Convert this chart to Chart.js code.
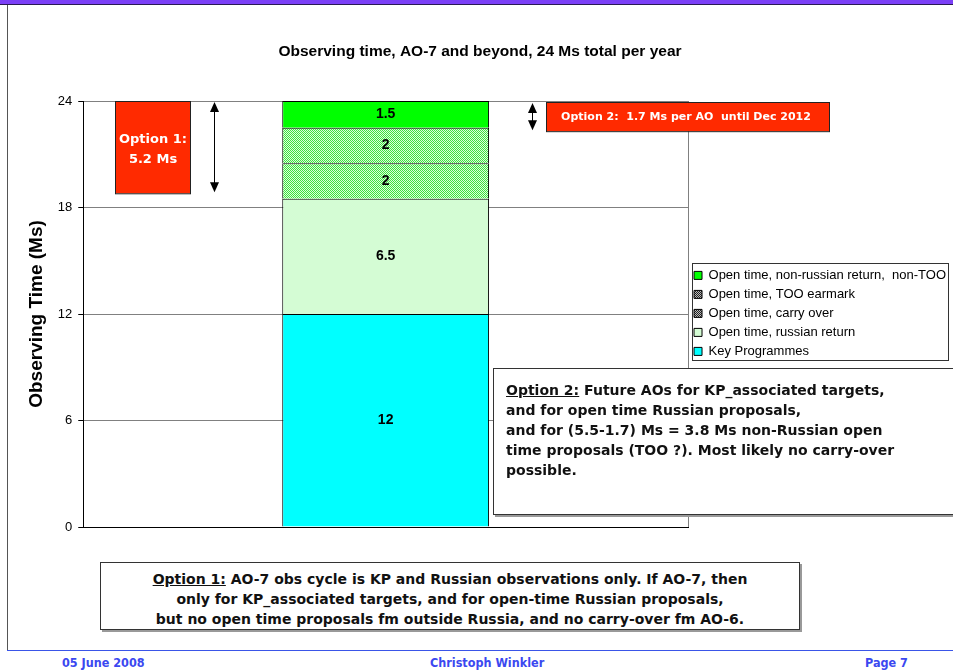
<!DOCTYPE html>
<html>
<head>
<meta charset="utf-8">
<script src="https://cdn.jsdelivr.net/npm/chart.js@4"></script>
<style>
body { margin: 0; width: 953px; height: 672px; overflow: hidden; background: #fff; position: relative; font-family: "DejaVu Sans", sans-serif; }
#topbar { position: absolute; left: 0; top: 0; width: 953px; height: 4px; background: #7b3ff7; border-bottom: 1px solid #2a1a55; }
#leftline { position: absolute; left: 7px; top: 5px; width: 1px; height: 645px; background: #555; }
#bottomline { position: absolute; left: 7px; top: 650px; width: 946px; height: 1px; background: #3a55e8; }
.foot { position: absolute; top: 655px; font: bold 12.5px "DejaVu Sans Condensed", "DejaVu Sans"; color: #3b48f0; }
#wrap { position: absolute; left: 0; top: 0; width: 953px; height: 545px; }
.note { position: absolute; background: #fff; border: 1px solid #333; box-shadow: 2px 2px 0 #999; font: bold 14px/20px "DejaVu Sans"; color: #111; box-sizing: border-box; }
</style>
</head>
<body>
<div id="wrap"><canvas id="chart"></canvas></div>
<div id="topbar"></div>
<div id="leftline"></div>

<div class="note" style="left:493px; top:368px; width:480px; height:147px; padding:11px 0 0 12px;">
<u>Option 2:</u> Future AOs for KP_associated targets,<br>
and for open time Russian proposals,<br>
and for (5.5-1.7) Ms = 3.8 Ms non-Russian open<br>
time proposals (TOO ?). Most likely no carry-over<br>
possible.
</div>

<div class="note" style="left:100px; top:562px; width:700px; height:68px; padding-top:6px; text-align:center;">
<u>Option 1:</u> AO-7 obs cycle is KP and Russian observations only. If AO-7, then<br>
only for KP_associated targets, and for open-time Russian proposals,<br>
but no open time proposals fm outside Russia, and no carry-over fm AO-6.
</div>

<div id="bottomline"></div>
<div class="foot" style="left:62px;">05 June 2008</div>
<div class="foot" style="left:430px;">Christoph Winkler</div>
<div class="foot" style="left:865px;">Page 7</div>

<script>
// chart values
const categories = ['AO-7'];
const seriesNames = [
    'Key Programmes',
    'Open time, russian return',
    'Open time, carry over',
    'Open time, TOO earmark',
    'Open time, non-russian return,  non-TOO'
];
const keyProgrammes = [12];
const russianReturn = [6.5];
const carryOver = [2];
const tooEarmark = [2];
const nonRussian = [1.5];
const yTicks = [0, 6, 12, 18, 24];
// option spans in Ms, drawn from the top of the scale
const option1Span = [24, 18.8];   // 5.2 Ms
const option2Span = [24, 22.3];   // 1.7 Ms

// small checker patterns for the hatched segments
function checker(c1, c2) {
    const p = document.createElement('canvas');
    p.width = 2; p.height = 2;
    const g = p.getContext('2d');
    g.fillStyle = c2; g.fillRect(0, 0, 2, 2);
    g.fillStyle = c1; g.fillRect(0, 0, 1, 1); g.fillRect(1, 1, 1, 1);
    return g.createPattern(p, 'repeat');
}
const ctx = document.getElementById('chart').getContext('2d');
const greenHatch = checker('#3ee03e', '#dcffdc');
const grayHatch = checker('#222222', '#bbbbbb');

function drawArrow(c, x, y1, y2) {
    c.save();
    c.strokeStyle = '#000';
    c.fillStyle = '#000';
    c.lineWidth = 1;
    c.beginPath();
    c.moveTo(x + 0.5, y1 + 8);
    c.lineTo(x + 0.5, y2 - 8);
    c.stroke();
    c.beginPath();
    c.moveTo(x + 0.5, y1); c.lineTo(x - 4, y1 + 10); c.lineTo(x + 5, y1 + 10); c.closePath(); c.fill();
    c.beginPath();
    c.moveTo(x + 0.5, y2); c.lineTo(x - 4, y2 - 10); c.lineTo(x + 5, y2 - 10); c.closePath(); c.fill();
    c.restore();
}

const overlays = {
    id: 'overlays',
    afterDatasetsDraw(chart) {
        const c = chart.ctx;
        // values in the middle of each segment
        c.save();
        c.font = 'bold 14px "Liberation Sans", Arial';
        c.fillStyle = '#000';
        c.textAlign = 'center';
        c.textBaseline = 'middle';
        chart.data.datasets.forEach((ds, i) => {
            chart.getDatasetMeta(i).data.forEach((bar, j) => {
                c.fillText(String(ds.data[j]), bar.x, (bar.y + bar.base) / 2);
            });
        });
        c.restore();
    },
    afterDraw(chart) {
        const c = chart.ctx;
        const area = chart.chartArea;
        const y = chart.scales.y;

        // right edge of the plot
        c.save();
        c.strokeStyle = '#808080';
        c.lineWidth = 1;
        c.beginPath();
        c.moveTo(Math.round(area.right) + 0.5, area.top);
        c.lineTo(Math.round(area.right) + 0.5, area.bottom);
        c.stroke();

        // legend frame
        const boxes = chart.legend.legendHitBoxes;
        if (boxes.length) {
            let l = Infinity, t = Infinity, r = -Infinity, b = -Infinity;
            boxes.forEach(h => {
                l = Math.min(l, h.left); t = Math.min(t, h.top);
                r = Math.max(r, h.left + h.width); b = Math.max(b, h.top + h.height);
            });
            c.strokeStyle = '#333';
            c.strokeRect(Math.round(l - 2) + 0.5, Math.round(t - 6) + 0.5, Math.round(r - l + 4), Math.round(b - t + 8));
        }

        // Option 1 box
        const o1Top = y.getPixelForValue(option1Span[0]);
        const o1Bot = y.getPixelForValue(option1Span[1]);
        c.fillStyle = '#ff2a00';
        c.fillRect(115, o1Top, 75, o1Bot - o1Top);
        c.strokeStyle = '#222';
        c.strokeRect(115.5, o1Top + 0.5, 75, o1Bot - o1Top);
        c.fillStyle = '#fff';
        c.font = 'bold 13px "DejaVu Sans"';
        c.textAlign = 'center';
        c.textBaseline = 'middle';
        c.fillText('Option 1:', 153, 140);
        c.fillText('5.2 Ms', 153, 160);
        drawArrow(c, 214, o1Top + 1, o1Bot - 1);

        // Option 2 box
        const o2Top = y.getPixelForValue(option2Span[0]) + 1;
        const o2Bot = y.getPixelForValue(option2Span[1]);
        c.fillStyle = '#ff2a00';
        c.fillRect(546, o2Top, 283, o2Bot - o2Top);
        c.strokeStyle = '#222';
        c.strokeRect(546.5, o2Top + 0.5, 283, o2Bot - o2Top);
        c.fillStyle = '#fff';
        c.font = 'bold 11px "DejaVu Sans"';
        c.fillText('Option 2:  1.7 Ms per AO  until Dec 2012', 686, (o2Top + o2Bot) / 2 + 1);
        drawArrow(c, 532, o2Top + 1, o2Bot - 1);
        c.restore();
    }
};

const colors = ['#00ffff', '#d4fcd4', greenHatch, greenHatch, '#00ff00'];
const legendFills = ['#00ffff', '#d4fcd4', grayHatch, grayHatch, '#00ff00'];
const values = [keyProgrammes, russianReturn, carryOver, tooEarmark, nonRussian];

new Chart(ctx, {
    type: 'bar',
    data: {
        labels: categories,
        datasets: seriesNames.map((name, i) => ({
            label: name,
            data: values[i],
            backgroundColor: colors[i],
            borderColor: '#000',
            borderWidth: 1,
            barPercentage: 0.342,
            categoryPercentage: 1
        }))
    },
    options: {
        responsive: true,
        maintainAspectRatio: false,
        animation: false,
        devicePixelRatio: 1,
        layout: { padding: { left: 4, right: -3, top: 0, bottom: 10 } },
        plugins: {
            title: {
                display: true,
                text: 'Observing time, AO-7 and beyond, 24 Ms total per year',
                font: { family: '"Liberation Sans", Arial', size: 15.5, weight: 'bold' },
                color: '#000',
                padding: { top: 42.7, bottom: 39.7 }
            },
            legend: {
                position: 'right',
                align: 'start',
                reverse: true,
                maxWidth: 400,
                // empty title used only as a spacer above the items
                title: { display: true, text: '', font: { size: 2 }, padding: { top: 260.5, bottom: 0 } },
                labels: {
                    boxWidth: 8,
                    boxHeight: 8,
                    padding: 6,
                    color: '#000',
                    font: { family: '"Liberation Sans", Arial', size: 13 },
                    generateLabels(chart) {
                        const items = Chart.defaults.plugins.legend.labels.generateLabels(chart);
                        items.forEach(it => { it.fillStyle = legendFills[it.datasetIndex]; });
                        return items;
                    }
                }
            },
            tooltip: { enabled: false }
        },
        scales: {
            x: {
                stacked: true,
                ticks: { display: false },
                grid: { display: false },
                border: { color: '#000', width: 1 }
            },
            y: {
                stacked: true,
                min: 0,
                max: 24,
                afterBuildTicks(scale) { scale.ticks = yTicks.map(v => ({ value: v })); },
                ticks: {
                    padding: 6,
                    color: '#000',
                    font: { family: '"Liberation Sans", Arial', size: 13 }
                },
                grid: { color: '#808080', tickColor: '#000', tickLength: 5 },
                border: { color: '#000', width: 1 },
                title: {
                    display: true,
                    text: 'Observing Time (Ms)',
                    color: '#000',
                    font: { family: '"Liberation Sans", Arial', size: 19, weight: 'bold' },
                    padding: { top: 21, bottom: 4 }
                }
            }
        }
    },
    plugins: [overlays]
});
</script>
</body>
</html>
